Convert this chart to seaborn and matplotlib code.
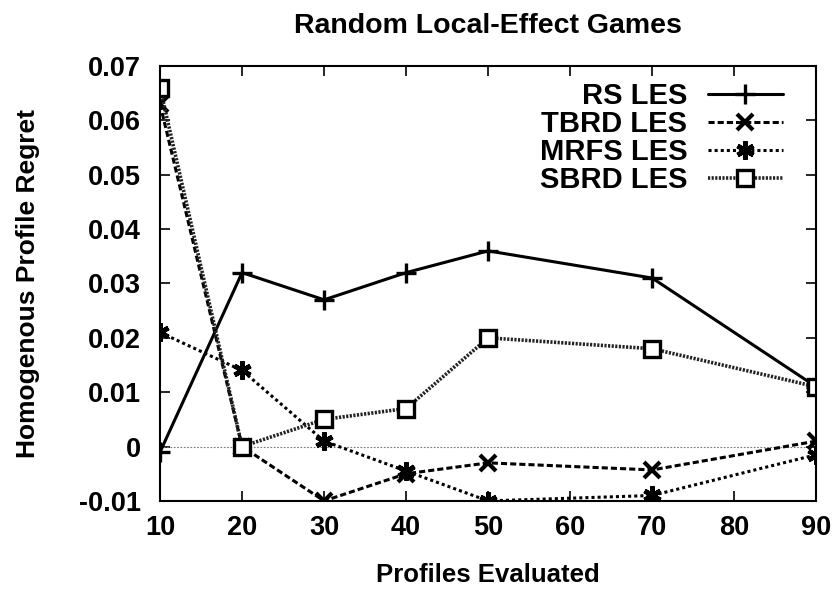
import matplotlib
matplotlib.use("Agg")
import matplotlib.pyplot as plt
import seaborn as sns

profiles = [10, 20, 30, 40, 50, 70, 90]
rs_les = [-0.001, 0.032, 0.027, 0.032, 0.036, 0.031, 0.011]
tbrd_les = [0.063, 0.000, -0.010, -0.005, -0.003, -0.0043, 0.001]
mrfs_les = [0.021, 0.014, 0.001, -0.0045, -0.010, -0.009, -0.0015]
sbrd_les = [0.066, 0.000, 0.005, 0.007, 0.020, 0.018, 0.011]

x_ticks = [10, 20, 30, 40, 50, 60, 70, 80, 90]
y_ticks = [-0.01, 0, 0.01, 0.02, 0.03, 0.04, 0.05, 0.06, 0.07]
y_tick_labels = ['-0.01', '0', '0.01', '0.02', '0.03', '0.04', '0.05', '0.06', '0.07']

sns.set_style("ticks")
plt.rcParams['font.family'] = ['Liberation Sans', 'DejaVu Sans']
plt.rcParams['font.weight'] = 'bold'
plt.rcParams['text.color'] = 'black'
plt.rcParams['axes.labelcolor'] = 'black'
plt.rcParams['axes.edgecolor'] = 'black'
plt.rcParams['xtick.color'] = 'black'
plt.rcParams['ytick.color'] = 'black'

fig = plt.figure(figsize=(8.38, 5.9), dpi=100)
ax = fig.add_axes([0.191, 0.151, 0.783, 0.737])

ax.axhline(0, color='#777777', lw=0.8, ls=(0, (1.5, 1.5)), zorder=1)

lw = 2.2
sns.lineplot(x=profiles, y=rs_les, ax=ax, color='black', lw=lw, ls='-',
             marker='+', markersize=15, markeredgewidth=2.4,
             markeredgecolor='black', label='RS LES')
sns.lineplot(x=profiles, y=tbrd_les, ax=ax, color='black', lw=lw, ls=(0, (2, 1)),
             marker='x', markersize=11, markeredgewidth=3.0,
             markeredgecolor='black', label='TBRD LES')
sns.lineplot(x=profiles, y=mrfs_les, ax=ax, color='black', lw=lw, ls=(0, (1, 1)),
             marker=(6, 2, 0), markersize=13, markeredgewidth=3.4,
             markeredgecolor='black', label='MRFS LES')
sns.lineplot(x=profiles, y=sbrd_les, ax=ax, color='#222222', lw=lw + 0.4, ls=(0, (0.6, 0.4)),
             marker='s', markersize=11, markeredgewidth=2.4, markerfacecolor='white',
             markeredgecolor='black', label='SBRD LES')

ax.set_xlim(10, 90)
ax.set_ylim(-0.01, 0.07)
ax.set_xticks(x_ticks)
ax.set_yticks(y_ticks)
ax.set_yticklabels(y_tick_labels)
ax.tick_params(direction='in', length=7, width=1.2, labelsize=19.5, top=True, right=True,
               colors='black')
ax.tick_params(axis='y', pad=14)
ax.tick_params(axis='x', pad=10)
for s in ax.spines.values():
    s.set_linewidth(1.5)
    s.set_color('black')
    s.set_visible(True)

ax.set_title('Random Local-Effect Games', fontsize=20.5, fontweight='bold', pad=24,
             color='black')
ax.set_xlabel('Profiles Evaluated', fontsize=18.5, fontweight='bold', labelpad=16,
              color='black')
ax.set_ylabel('Homogenous Profile Regret', fontsize=19, fontweight='bold', labelpad=28,
              color='black')

leg = ax.legend(loc='upper right', bbox_to_anchor=(0.95, 0.963), frameon=False,
                markerfirst=False, fontsize=21, handlelength=2.6, labelspacing=0.0,
                handletextpad=0.7, borderaxespad=0, borderpad=0)
for t in leg.get_texts():
    t.set_color('black')

fig.savefig('out.png', dpi=100)
